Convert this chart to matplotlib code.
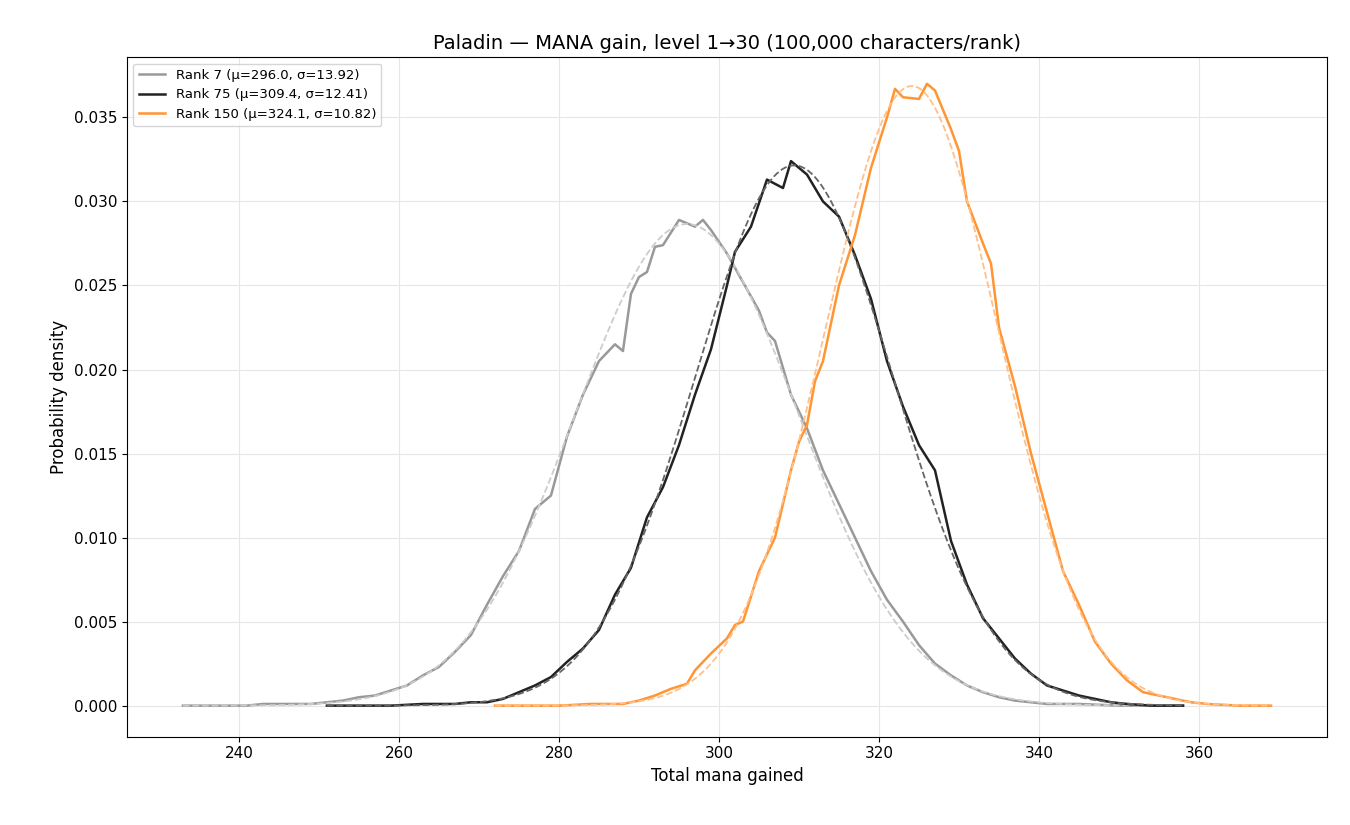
import numpy as np
import matplotlib.pyplot as plt

r7_x = [233, 235, 237, 239, 241, 243, 245, 247, 249, 251, 253, 255, 257, 259, 261, 263, 265, 267,
        269, 271, 273, 275, 277, 279, 281, 283, 285, 287, 288, 289, 290, 291, 292, 293, 295, 297,
        298, 299, 301, 303, 305, 306, 307, 309, 311, 313, 315, 317, 319, 321, 323, 325, 327, 329,
        331, 333, 335, 337, 339, 341, 345, 350, 358]
r7_y = [0, 0, 0, 0, 0, 0.0001, 0.0001, 0.0001, 0.0001, 0.0002, 0.0003, 0.0005, 0.0006, 0.0009,
        0.0012, 0.0018, 0.0023, 0.0032, 0.0042, 0.0060, 0.0077, 0.0092, 0.0117, 0.0125, 0.0160,
        0.0185, 0.0205, 0.0215, 0.0211, 0.0245, 0.0255, 0.0258, 0.0273, 0.0274, 0.0289, 0.0285,
        0.0289, 0.0283, 0.0269, 0.0252, 0.0235, 0.0222, 0.0217, 0.0185, 0.0165, 0.0140, 0.0120,
        0.0100, 0.0080, 0.0063, 0.0050, 0.0036, 0.0025, 0.0018, 0.0012, 0.0008, 0.0005, 0.0003,
        0.0002, 0.0001, 0.0001, 0, 0]
r75_x = [251, 255, 259, 263, 267, 269, 271, 273, 275, 277, 279, 281, 283, 285, 287, 289, 291, 293,
         295, 297, 299, 301, 302, 304, 306, 308, 309, 311, 313, 315, 317, 319, 321, 323, 325, 327,
         329, 331, 333, 335, 337, 339, 341, 343, 345, 347, 349, 351, 354, 358]
r75_y = [0, 0, 0, 0.0001, 0.0001, 0.0002, 0.0002, 0.0004, 0.0008, 0.0012, 0.0017, 0.0026, 0.0034,
         0.0045, 0.0066, 0.0082, 0.0112, 0.0130, 0.0155, 0.0185, 0.0212, 0.0250, 0.0270, 0.0285,
         0.0313, 0.0308, 0.0324, 0.0316, 0.0300, 0.0291, 0.0268, 0.0242, 0.0205, 0.0178, 0.0155,
         0.0140, 0.0098, 0.0072, 0.0052, 0.0040, 0.0028, 0.0019, 0.0012, 0.0009, 0.0006, 0.0004,
         0.0002, 0.0001, 0, 0]
r150_x = [272, 276, 280, 284, 286, 288, 290, 292, 294, 296, 297, 299, 301, 302, 303, 305, 307, 309,
          310, 311, 312, 313, 315, 317, 319, 321, 322, 323, 325, 326, 327, 329, 330, 331, 333, 334,
          335, 337, 339, 341, 343, 345, 347, 349, 351, 353, 355, 357, 359, 361, 365, 369]
r150_y = [0, 0, 0, 0.0001, 0.0001, 0.0001, 0.0003, 0.0006, 0.0010, 0.0013, 0.0021, 0.0031, 0.0040,
          0.0048, 0.0050, 0.0080, 0.0100, 0.0140, 0.0157, 0.0167, 0.0193, 0.0205, 0.0250, 0.0280,
          0.0320, 0.0350, 0.0367, 0.0362, 0.0361, 0.0370, 0.0366, 0.0343, 0.0330, 0.0300, 0.0275,
          0.0263, 0.0225, 0.0190, 0.0150, 0.0115, 0.0080, 0.0060, 0.0038, 0.0025, 0.0015, 0.0008,
          0.0006, 0.0004, 0.0002, 0.0001, 0, 0]

ranks = [7, 75, 150]
mus = [296.0, 309.4, 324.1]
sigmas = [13.92, 12.41, 10.82]
colors = ["#999999", "#222222", "#ff9533"]
fit_colors = ["#cccccc", "#666666", "#ffc08a"]
series = [(r7_x, r7_y), (r75_x, r75_y), (r150_x, r150_y)]

fig, ax = plt.subplots(figsize=(13.5, 8.25), dpi=100)
for (xs, ys), rk, mu, sd, c, fc in zip(series, ranks, mus, sigmas, colors, fit_colors):
    ax.plot(xs, ys, color=c, lw=1.8, label=f"Rank {rk} (\u03bc={mu:.1f}, \u03c3={sd:.2f})")
    # normal fit from mu/sigma
    gx = np.linspace(xs[0], xs[-1], 300)
    gy = np.exp(-0.5 * ((gx - mu) / sd) ** 2) / (sd * np.sqrt(2 * np.pi))
    ax.plot(gx, gy, color=fc, lw=1.3, ls="--")

ax.set_xlim(226, 376)
ax.set_ylim(-0.00185, 0.0386)
ax.set_xticks(range(240, 361, 20))
ax.grid(True, color="#e6e6e6", lw=0.8)
ax.set_axisbelow(True)
ax.tick_params(labelsize=11)
ax.set_title("Paladin \u2014 MANA gain, level 1\u219230 (100,000 characters/rank)", fontsize=14)
ax.set_xlabel("Total mana gained", fontsize=12)
ax.set_ylabel("Probability density", fontsize=12)
ax.legend(loc="upper left", fontsize=9.5)
fig.subplots_adjust(left=0.094, right=0.983, top=0.931, bottom=0.107)
fig.savefig("out.png")
